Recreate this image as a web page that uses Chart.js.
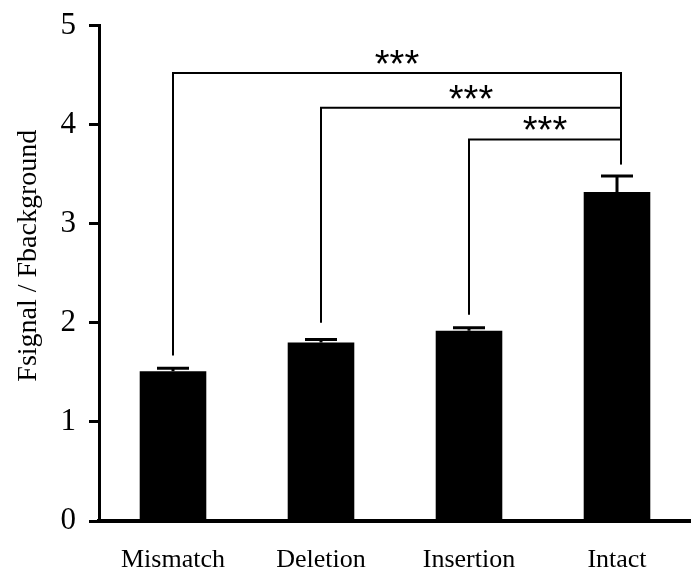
<!DOCTYPE html>
<html>
<head>
<meta charset="utf-8">
<script src="https://cdn.jsdelivr.net/npm/chart.js@4"></script>
<style>
  html, body { margin: 0; padding: 0; background: #fff; }
  #wrap { width: 691px; height: 574px; }
</style>
</head>
<body>
<div id="wrap"><canvas id="ratioChart" width="691" height="574"></canvas></div>
<script>
// values
const categories = ['Mismatch', 'Deletion', 'Insertion', 'Intact'];
const ratioMeans = [1.51, 1.80, 1.92, 3.32];
const ratioErrors = [0.03, 0.03, 0.03, 0.16];
const yTicks = [0, 1, 2, 3, 4, 5];

// significance brackets: [fromIndex, toIndex, barLevel, leftLegEnd, rightLegEnd, label]
const brackets = [
    [0, 3, 4.52, 1.67, 3.6, '***'],
    [1, 3, 4.17, 2.00, 3.6, '***'],
    [2, 3, 3.85, 2.08, 3.6, '***']
];

const serif = '"Liberation Serif", "DejaVu Serif", serif';

// draws error bars and the significance brackets
const annotations = {
    id: 'annotations',
    afterDatasetsDraw(chart) {
        const ctx = chart.ctx;
        const x = chart.scales.x;
        const y = chart.scales.y;
        ctx.save();
        ctx.strokeStyle = '#000';
        ctx.lineCap = 'butt';

        // error bars (upper only)
        ctx.lineWidth = 3;
        ratioMeans.forEach((m, i) => {
            const px = x.getPixelForValue(i);
            const top = y.getPixelForValue(m + ratioErrors[i]);
            const base = y.getPixelForValue(m);
            ctx.beginPath();
            ctx.moveTo(px, base);
            ctx.lineTo(px, top);
            ctx.moveTo(px - 16, top);
            ctx.lineTo(px + 16, top);
            ctx.stroke();
        });

        // brackets
        ctx.lineWidth = 2;
        ctx.fillStyle = '#000';
        ctx.font = '38px "Liberation Sans", Arial, sans-serif';
        ctx.textAlign = 'center';
        ctx.textBaseline = 'alphabetic';
        brackets.forEach(b => {
            const x1 = x.getPixelForValue(b[0]);
            const x2 = x.getPixelForValue(b[1]) + 4;
            const yb = y.getPixelForValue(b[2]);
            ctx.beginPath();
            ctx.moveTo(x1, y.getPixelForValue(b[3]));
            ctx.lineTo(x1, yb);
            ctx.lineTo(x2, yb);
            ctx.lineTo(x2, y.getPixelForValue(b[4]));
            ctx.stroke();
            ctx.fillText(b[5], (x1 + x2) / 2, yb + 4);
        });
        ctx.restore();
    }
};

new Chart(document.getElementById('ratioChart').getContext('2d'), {
    type: 'bar',
    data: {
        labels: categories,
        datasets: [{
            data: ratioMeans,
            backgroundColor: '#000',
            borderWidth: 0,
            categoryPercentage: 1,
            barPercentage: 0.45
        }]
    },
    options: {
        responsive: false,
        animation: false,
        layout: { padding: { top: 10, right: 0, bottom: 0, left: 0 } },
        plugins: { legend: { display: false }, tooltip: { enabled: false } },
        scales: {
            x: {
                grid: { display: false },
                border: { display: true, color: '#000', width: 4 },
                afterFit: scale => { scale.height = 53; },
                ticks: { color: '#000', padding: 16, font: { family: serif, size: 26 } }
            },
            y: {
                min: 0,
                max: 5,
                afterBuildTicks: scale => { scale.ticks = yTicks.map(v => ({ value: v })); },
                afterFit: scale => { scale.width = 99; },
                grid: { drawOnChartArea: false, drawTicks: true, tickLength: 10, tickColor: '#000', tickWidth: 3 },
                border: { display: true, color: '#000', width: 3 },
                ticks: { color: '#000', padding: 13, font: { family: serif, size: 31, lineHeight: 0.8 } },
                title: {
                    display: true,
                    text: '     Fsignal / Fbackground',
                    color: '#000',
                    padding: { top: 12, bottom: 0 },
                    font: { family: serif, size: 28 }
                }
            }
        }
    },
    plugins: [annotations]
});
</script>
</body>
</html>
